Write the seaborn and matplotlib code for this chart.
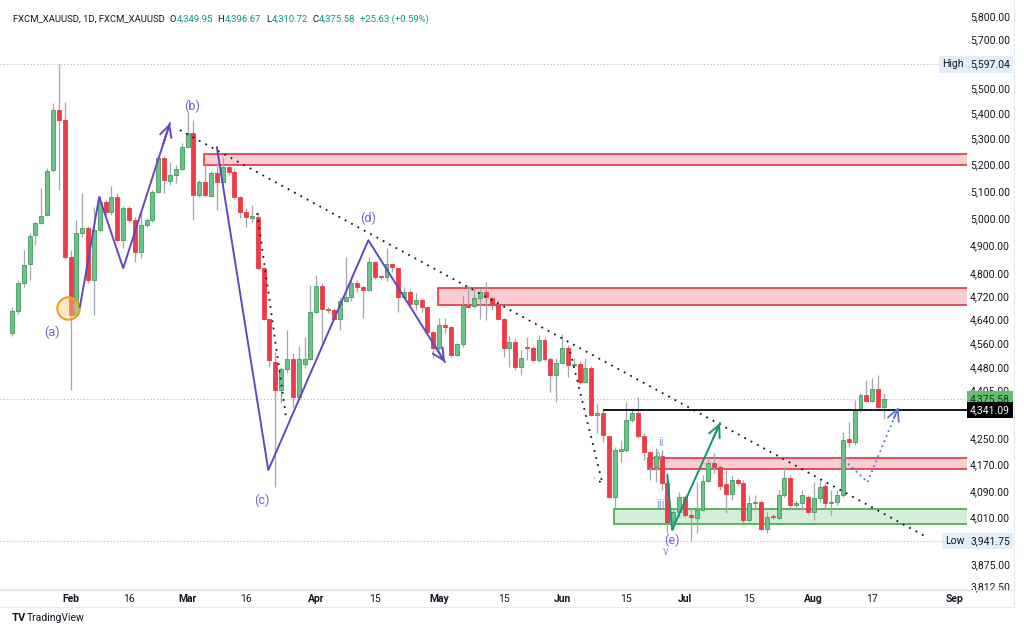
import numpy as np
import pandas as pd
import matplotlib
matplotlib.use("Agg")
import matplotlib.pyplot as plt
from matplotlib.patches import Rectangle
from matplotlib.ticker import NullLocator
import seaborn as sns

# daily XAUUSD candles (one per session, mid Jan -> mid Aug)
opens = [4593, 4668, 4765, 4833, 4937, 4981, 5010, 5179, 5412, 5373,
         4858, 4655, 4944, 4962, 4776, 4955, 5058, 5021, 5077, 4919,
         5036, 4992, 4876, 4974, 4992, 5096, 5225, 5137, 5160, 5183,
         5267, 5321, 5084, 5133, 5081, 5168, 5133, 5190, 5171, 5077,
         5021, 5000, 5003, 4818, 4641, 4496, 4405, 4473, 4506, 4382,
         4490, 4506, 4665, 4755, 4675, 4672, 4641, 4703, 4717, 4765,
         4751, 4741, 4840, 4790, 4786, 4833, 4818, 4717, 4734, 4692,
         4706, 4682, 4596, 4543, 4620, 4613, 4520, 4556, 4689, 4686,
         4713, 4734, 4713, 4689, 4641, 4543, 4563, 4480, 4546, 4543,
         4503, 4570, 4506, 4453, 4493, 4543, 4486, 4490, 4430, 4476,
         4324, 4330, 4258, 4071, 4211, 4214, 4308, 4330, 4258, 4208,
         4162, 4195, 4113, 3997, 4026, 4071, 4018, 4010, 4032, 4119,
         4174, 4162, 4110, 4080, 4122, 4113, 4003, 4053, 4056, 3976,
         4015, 4009, 4077, 4128, 4047, 4053, 4071, 4026, 4068, 4104,
         4053, 4056, 4077, 4248, 4239, 4340, 4389, 4369, 4408, 4349.95]
highs = [4682, 4776, 4883, 4944, 4985, 5110, 5187, 5440, 5597.04, 5444,
         4883, 4992, 5092, 4970, 5040, 5080, 5066, 5118, 5092, 5044,
         5044, 5003, 5017, 5000, 5103, 5228, 5232, 5210, 5198, 5282,
         5405, 5373, 5141, 5198, 5175, 5205, 5228, 5198, 5179, 5080,
         5036, 5047, 5021, 4822, 4645, 4530, 4480, 4603, 4526, 4550,
         4580, 4758, 4794, 4765, 4682, 4679, 4717, 4858, 4790, 4776,
         4755, 4858, 4845, 4795, 4890, 4836, 4820, 4751, 4741, 4730,
         4713, 4686, 4600, 4644, 4644, 4616, 4560, 4724, 4758, 4748,
         4748, 4769, 4720, 4706, 4645, 4583, 4576, 4536, 4580, 4550,
         4586, 4580, 4513, 4510, 4590, 4553, 4510, 4500, 4510, 4483,
         4362, 4340, 4261, 4223, 4245, 4366, 4346, 4382, 4267, 4211,
         4220, 4214, 4144, 4040, 4086, 4077, 4038, 4116, 4138, 4192,
         4205, 4168, 4153, 4137, 4128, 4122, 4077, 4077, 4062, 4027,
         4020, 4092, 4162, 4137, 4062, 4092, 4077, 4116, 4122, 4113,
         4092, 4092, 4271, 4302, 4372, 4395, 4437, 4444, 4453, 4396.67]
lows = [4585, 4658, 4751, 4776, 4901, 4977, 5007, 5170, 5103, 4850,
        4405, 4650, 4930, 4765, 4655, 4948, 5010, 5010, 4912, 4890,
        4985, 4840, 4854, 4966, 4985, 5092, 5092, 5122, 5130, 5179,
        5263, 4992, 5077, 5077, 5077, 5028, 5130, 5160, 5070, 5000,
        4966, 4985, 4811, 4637, 4480, 4101, 4362, 4460, 4350, 4378,
        4477, 4503, 4660, 4560, 4662, 4637, 4603, 4700, 4703, 4734,
        4644, 4738, 4780, 4780, 4772, 4804, 4665, 4710, 4686, 4672,
        4665, 4590, 4510, 4536, 4593, 4513, 4516, 4546, 4679, 4679,
        4641, 4637, 4672, 4637, 4513, 4480, 4470, 4453, 4503, 4496,
        4496, 4500, 4398, 4366, 4490, 4447, 4480, 4424, 4427, 4321,
        4267, 4239, 4068, 4038, 4177, 4208, 4302, 4252, 4183, 4122,
        4116, 4092, 3964, 3973, 4012, 4012, 3941.75, 3964, 4029, 4116,
        4144, 4092, 4024, 4062, 4107, 3994, 3997, 4032, 3973, 3964,
        4006, 4003, 4071, 4032, 4041, 4032, 4020, 4003, 4056, 4038,
        4018, 4047, 4071, 4223, 4230, 4334, 4366, 4366, 4346, 4310.72]
closes = [4668, 4765, 4829, 4933, 4981, 5007, 5175, 5412, 5373, 4858,
          4655, 4944, 4962, 4776, 4955, 5058, 5021, 5077, 4919, 5036,
          4992, 4876, 4974, 4992, 5096, 5225, 5141, 5160, 5183, 5267,
          5321, 5084, 5133, 5084, 5168, 5133, 5190, 5171, 5077, 5021,
          5003, 5007, 4818, 4641, 4503, 4405, 4473, 4506, 4382, 4506,
          4506, 4665, 4755, 4675, 4672, 4641, 4703, 4717, 4765, 4751,
          4741, 4840, 4786, 4786, 4833, 4822, 4717, 4734, 4692, 4706,
          4682, 4596, 4543, 4620, 4613, 4520, 4556, 4689, 4682, 4713,
          4734, 4717, 4689, 4641, 4543, 4563, 4480, 4510, 4543, 4503,
          4570, 4506, 4453, 4493, 4543, 4486, 4490, 4430, 4476, 4324,
          4330, 4261, 4071, 4214, 4217, 4308, 4330, 4258, 4208, 4162,
          4195, 4113, 3997, 4026, 4071, 4018, 4012, 4032, 4119, 4174,
          4162, 4104, 4080, 4122, 4113, 4003, 4053, 4056, 3976, 4012,
          4012, 4077, 4128, 4047, 4053, 4077, 4026, 4068, 4101, 4053,
          4056, 4077, 4245, 4239, 4340, 4389, 4369, 4408, 4350, 4375.58]

# date axis (bar index -> label)
date_ticks = [10, 20, 30, 40, 52, 62, 73, 84, 94, 105, 115, 126, 137, 147, 161]
date_labels = ["Feb", "16", "Mar", "16", "Apr", "15", "May", "15",
               "Jun", "15", "Jul", "15", "Aug", "17", "Sep"]
price_ticks = [5800, 5700, 5500, 5400, 5300, 5200, 5100, 5000, 4900, 4800,
               4720, 4640, 4560, 4480, 4405, 4250, 4170, 4090, 4010, 3875, 3812.5]

# drawings on the chart: supply / demand zones (start bar, low, high)
supply_zones = [(32.8, 5197, 5240), (72.8, 4689, 4748), (108.7, 4156, 4190)]
demand_zone = (102.9, 3991, 4036)
wave1_x, wave1_y = [11.6, 14.9, 19, 27], [4682, 5077, 4818, 5361]
wave2_x, wave2_y = [35, 43.8, 60.9, 74], [5267, 4153, 4918, 4496]
impulse_x, impulse_y = [112, 112.8, 121], [4138, 3974, 4299]
path_x, path_y = [142.2, 146.2, 151.5], [4184, 4116, 4350]
trend_x, trend_y = [28.7, 156], [5333, 3956]
drop1_x, drop1_y = [41.9, 46.9], [5017, 4308]
drop2_x, drop2_y = [95.4, 100.9, 99.5], [4530, 4113, 4128]
level_start, level_price = 101, 4341.09
high_price, low_price, last_price = 5597.04, 3941.75, 4375.58
wave_labels = [("(a)", 6.8, 4597), ("(b)", 30.8, 5428), ("(c)", 42.7, 4062),
               ("(d)", 60.9, 4999), ("(e)", 112.8, 3945)]
sub_labels = [("ii", 110.9, 4239), ("iv", 110.6, 4199), ("iii", 110.8, 4050), ("v", 111.7, 3912)]

sns.set_theme(style="white")
plt.rcParams["font.family"] = ["Roboto", "DejaVu Sans"]

TXT = "#131722"
UP, UP_EDGE = "#6cc389", "#3f9d5e"
DN = "#ef3a48"
PURPLE = "#6546c3"

fig = plt.figure(figsize=(10.24, 6.33), dpi=100)
ax = fig.add_axes([0.0, 43 / 633, 967 / 1024, 590 / 633])
ax.set_yscale("log")

df = pd.DataFrame({"open": opens, "high": highs, "low": lows, "close": closes})
df["x"] = np.arange(len(df))
df["lo"] = df[["open", "close"]].min(axis=1)
df["hi"] = df[["open", "close"]].max(axis=1)
up = df["close"] >= df["open"]

ax.vlines(df["x"], df["low"], df["high"], color="#a3a6ae", lw=0.9, zorder=2)
ax.bar(df["x"][up], df["hi"][up] - df["lo"][up], bottom=df["lo"][up], width=0.68,
       color=UP, edgecolor=UP_EDGE, lw=0.6, zorder=3)
ax.bar(df["x"][~up], df["hi"][~up] - df["lo"][~up], bottom=df["lo"][~up], width=0.68,
       color=DN, edgecolor=DN, lw=0.6, zorder=3)

x_right = 170
for x0, lo, hi in supply_zones:
    ax.add_patch(Rectangle((x0, lo), x_right - x0, hi - lo, fc="#f9c9ce", ec="#e0303f",
                           lw=1.3, alpha=0.9, zorder=1.5))
x0, lo, hi = demand_zone
ax.add_patch(Rectangle((x0, lo), x_right - x0, hi - lo, fc="#d5eed8", ec="#4caf50",
                       lw=1.3, zorder=1.5))

# reference lines
for p in (high_price, low_price, last_price):
    ax.axhline(p, color="#b2b5be", lw=0.8, ls=(0, (1, 2)), zorder=1)
ax.hlines(level_price, level_start, x_right, color="#131722", lw=1.4, zorder=4)

# trend lines
ax.plot(trend_x, trend_y, color="#131722", lw=1.3, ls=(0, (1, 3)), zorder=4)
ax.plot(drop1_x, drop1_y, color="#131722", lw=1.3, ls=(0, (1, 3)), zorder=4)
ax.plot(drop2_x, drop2_y, color="#131722", lw=1.3, ls=(0, (1, 3)), zorder=4)


def arrow_path(xs, ys, color, ls="-", lw=1.4):
    ax.plot(xs, ys, color=color, lw=lw, ls=ls, zorder=5)
    # head only: short stub along the last segment
    xt = xs[-1] - 0.15 * (xs[-1] - xs[-2])
    yt = ys[-1] * (ys[-2] / ys[-1]) ** 0.15
    ax.annotate("", xy=(xs[-1], ys[-1]), xytext=(xt, yt),
                arrowprops=dict(arrowstyle="->,head_length=0.7,head_width=0.35",
                                color=color, lw=lw, shrinkA=0, shrinkB=0), zorder=5)


arrow_path(wave1_x, wave1_y, PURPLE)
arrow_path(wave2_x, wave2_y, PURPLE)
arrow_path(impulse_x, impulse_y, "#13957a")
arrow_path(path_x, path_y, "#5a72d4", ls=(0, (1, 2)), lw=1.3)

ax.scatter([9.6], [4678], s=260, facecolor=(0.98, 0.80, 0.50, 0.45), edgecolor="#f29b1d",
           lw=1.5, zorder=4)

for t, x, y in wave_labels:
    ax.text(x, y, t, color="#7b5ec9", fontsize=9, ha="center", va="center", zorder=6)
for t, x, y in sub_labels:
    ax.text(x, y, t, color="#7ea3d9", fontsize=8.5, ha="center", va="center", zorder=6)

ax.set_xlim(-2.05, 163.2)
ax.set_ylim(3802.2, 5868.7)
ax.set_yticks(price_ticks, labels=[f"{v:,.2f}" for v in price_ticks])
ax.yaxis.set_minor_locator(NullLocator())
ax.yaxis.tick_right()
ax.tick_params(axis="y", length=0, pad=31, labelsize=7.5, labelcolor=TXT)
for lbl in ax.get_yticklabels():
    lbl.set_horizontalalignment("right")
ax.set_xticks(date_ticks, labels=date_labels)
ax.tick_params(axis="x", length=0, pad=3, labelsize=7.5, labelcolor=TXT)
for lbl in ax.get_xticklabels():
    if not lbl.get_text().isdigit():
        lbl.set_fontweight("bold")
for s in ("top", "left", "right"):
    ax.spines[s].set_visible(False)
ax.spines["bottom"].set_color("#e0e3eb")
ax.grid(False)

# price scale labels
yt = ax.get_yaxis_transform()
lab = dict(transform=yt, ha="right", va="center", fontsize=7.5, zorder=7, clip_on=False)
for name, p in (("High", high_price), ("Low", low_price)):
    ax.text(0.997, p, name, color=TXT, bbox=dict(boxstyle="square,pad=0.3", fc="#e3eefb", ec="none"), **lab)
    ax.text(1.0445, p, f"{p:,.2f}", color=TXT, bbox=dict(boxstyle="square,pad=0.3", fc="#e3eefb", ec="none"), **lab)
ax.text(1.0445, last_price, f"{last_price:,.2f}", color="#0f3d1c",
        bbox=dict(boxstyle="square,pad=0.3", fc="#5fbf6c", ec="none"), **lab)
ax.text(1.0445, level_price, f"{level_price:,.2f}", color="white",
        bbox=dict(boxstyle="square,pad=0.3", fc="black", ec="none"), **lab)

# header line
TEAL = "#089981"
pieces = [("FXCM_XAUUSD, 1D, FXCM_XAUUSD", TXT, 0), ("O", TXT, 3.5), ("4,349.95", TEAL, 0.3),
          ("H", TXT, 3.5), ("4,396.67", TEAL, 0.3), ("L", TXT, 3.5), ("4,310.72", TEAL, 0.3),
          ("C", TXT, 3.5), ("4,375.58", TEAL, 0.3), ("+25.63 (+0.59%)", TEAL, 3.5)]
prev = fig.text(13 / 1024, 1 - 22 / 633, pieces[0][0], color=pieces[0][1], fontsize=6.8)
for t, c, gap in pieces[1:]:
    prev = ax.annotate(t, xy=(1, 0), xycoords=prev, xytext=(gap, 0), textcoords="offset points",
                       color=c, fontsize=6.8, va="bottom", ha="left")

fig.text(12 / 1024, 1 - 621 / 633, "TV", fontsize=8, fontweight="bold", color=TXT)
fig.text(27 / 1024, 1 - 621 / 633, "TradingView", fontsize=7.5, color=TXT)
fig.add_artist(plt.Line2D([1014 / 1024, 1014 / 1024], [1 - 607 / 633, 1], color="#e8e9ee", lw=0.8))
fig.add_artist(plt.Line2D([0, 1014 / 1024], [1 - 607 / 633, 1 - 607 / 633], color="#e8e9ee", lw=0.8))
fig.add_artist(plt.Line2D([967 / 1024, 1014 / 1024], [43 / 633, 43 / 633], color="#e0e3eb", lw=0.8))

fig.savefig("out.png", dpi=100, facecolor="white")
